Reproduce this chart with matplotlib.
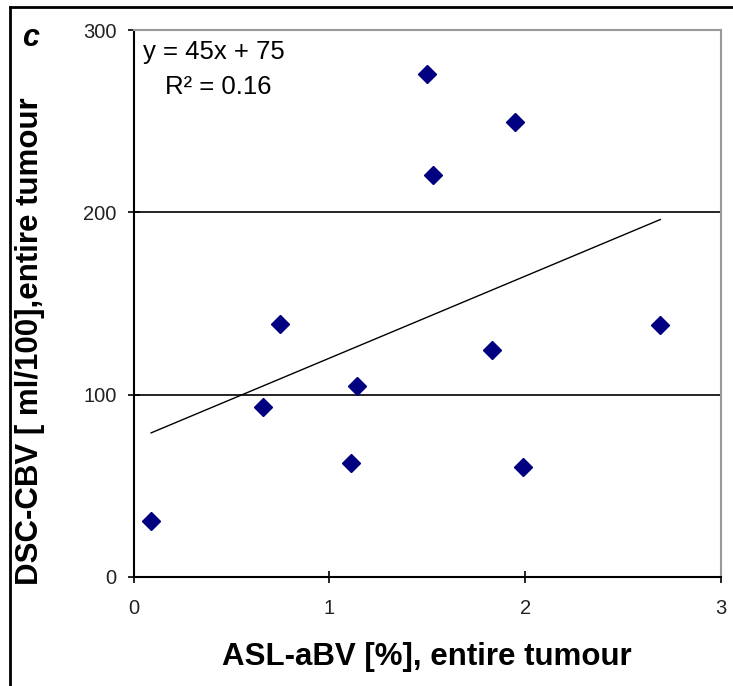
import matplotlib
matplotlib.use("Agg")
import matplotlib.pyplot as plt
from matplotlib.lines import Line2D

plt.rcParams['font.family'] = ['Liberation Sans', 'DejaVu Sans']

asl_abv = [0.09, 0.66, 0.75, 1.11, 1.14, 1.50, 1.53, 1.83, 1.95, 1.99, 2.69]
dsc_cbv = [30.5, 93, 139, 62.5, 105, 276, 220.6, 124.7, 249.5, 60.3, 138]
slope = 45
intercept = 75
x_ticks = [0, 1, 2, 3]
y_ticks = [0, 100, 200, 300]

W, H = 733, 686
fig = plt.figure(figsize=(W / 100, H / 100), dpi=100)
ax = fig.add_axes([133.5 / W, 1 - 577 / H, (721 - 133.5) / W, (577 - 30) / H])

ax.set_xlim(0, 3)
ax.set_ylim(0, 300)

# gridlines
for yv in y_ticks[1:-1]:
    ax.axhline(yv, color='black', lw=1.2, zorder=1)

# trendline
xmin, xmax = min(asl_abv), max(asl_abv)
ax.plot([xmin, xmax], [slope * xmin + intercept, slope * xmax + intercept],
        color='black', lw=1.0, zorder=2)

ax.plot(asl_abv, dsc_cbv, linestyle='none', marker='D', ms=9,
        color='#000080', markeredgecolor='#000080', zorder=3)

for s in ['top', 'right']:
    ax.spines[s].set_color('#999999')
    ax.spines[s].set_linewidth(1.5)
for s in ['left', 'bottom']:
    ax.spines[s].set_color('black')
    ax.spines[s].set_linewidth(1.5)

ax.set_xticks(x_ticks)
ax.set_yticks(y_ticks)
ax.set_xticklabels([str(t) for t in x_ticks])
ax.set_yticklabels([str(t) for t in y_ticks])
ax.tick_params(direction='inout', length=8, width=1.2, labelsize=14.5,
               labelcolor='#222222')
ax.tick_params(axis='x', pad=12)
ax.tick_params(axis='y', pad=8)

ax.text(143 / W, 1 - 40 / H, 'y = 45x + 75', transform=fig.transFigure,
        fontsize=18.5, ha='left', va='top')
ax.text(165 / W, 1 - 75 / H, 'R\u00b2 = 0.16', transform=fig.transFigure,
        fontsize=18.5, ha='left', va='top')

fig.text(427 / W, 1 - 657 / H, 'ASL-aBV [%], entire tumour', fontsize=22.5,
         fontweight='bold', ha='center', va='center')
fig.text(30 / W, 1 - 341 / H, 'DSC-CBV [ ml/100],entire tumour', fontsize=22.5,
         fontweight='bold', ha='center', va='center', rotation=90)
fig.text(31 / W, 1 - 38 / H, 'c', fontsize=22, fontweight='bold',
         fontstyle='italic', ha='center', va='center')

# outer frame (top and left edges visible)
fig.add_artist(Line2D([10 / W, 1], [1 - 7 / H, 1 - 7 / H], color='black', lw=2))
fig.add_artist(Line2D([10 / W, 10 / W], [0, 1 - 7 / H], color='black', lw=2))

fig.savefig('out.png', dpi=100)
